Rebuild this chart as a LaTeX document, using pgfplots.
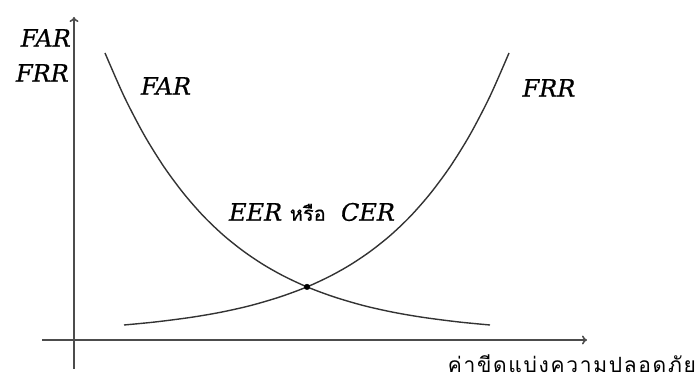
\documentclass[border=0pt]{standalone}
\usepackage{fontspec}
\usepackage{pgfplots}
\pgfplotsset{compat=1.18}
\usetikzlibrary{arrows.meta}
\setmainfont{DejaVu Serif}
\newfontfamily\thaifont[Script=Thai]{Loma}
\newfontfamily\labelfont[ItalicFeatures={FakeBold=0.6}]{DejaVu Serif}
\newcommand\lbl{\labelfont\fontsize{24}{28}\selectfont\itshape}

\begin{document}
\begin{tikzpicture}
\begin{axis}[
  scale only axis, width=697pt, height=383pt,
  xmin=-74, xmax=623, ymin=-43, ymax=340,
  hide axis, clip=false,
]
% frame of the whole figure
\path (rel axis cs:0,0) rectangle (rel axis cs:1,1);

% axes with arrow heads
\draw[line width=1.6pt, black!70, -{To[length=5pt,width=9pt]}] (axis cs:-32,0) -- (axis cs:513,0);
\draw[line width=1.6pt, black!70, -{To[length=5pt,width=9pt]}] (axis cs:0,-29) -- (axis cs:0,323);

% FAR: decreasing with the threshold
\addplot[smooth, line width=1.4pt, black!80] coordinates {
  (31,287) (50,243.8) (70,205.3) (90,173.1) (110,146.1) (130,123.3)
  (150,104.3) (170,88.4) (190,75.0) (210,63.8) (233,53.1) (260,43.1)
  (290,34.3) (320,27.6) (350,22.5) (385,18.0) (416,15.0)
};
% FRR: increasing with the threshold
\addplot[smooth, line width=1.4pt, black!80] coordinates {
  (50,15.0) (81,18.0) (116,22.5) (146,27.6) (176,34.3) (206,43.1)
  (233,53.1) (256,63.8) (276,75.0) (296,88.4) (316,104.3) (336,123.3)
  (356,146.1) (376,173.1) (396,205.3) (416,243.8) (435,287)
};
% crossing point
\addplot[only marks, mark=*, mark size=2.8pt, black] coordinates {(233,53.1)};

% labels
\node[anchor=east, inner sep=0pt] at (axis cs:-3,302) {\lbl FAR};
\node[anchor=east, inner sep=0pt] at (axis cs:-5,267) {\lbl FRR};
\node at (axis cs:92,254) {\lbl FAR};
\node at (axis cs:475,252) {\lbl FRR};
\node[fill=white, inner sep=1pt] at (axis cs:238,128)
  {\lbl EER {\upshape\thaifont\fontsize{20}{24}\selectfont\addfontfeatures{FakeBold=0.4}หรือ}\ \ CER};
\node[anchor=base east, inner sep=0pt, text depth=0pt] at (axis cs:622,-33)
  {\thaifont\fontsize{21}{24}\selectfont\addfontfeatures{LetterSpace=8}ค่าขีดแบ่งความปลอดภัย};
\end{axis}
\end{tikzpicture}
\end{document}
